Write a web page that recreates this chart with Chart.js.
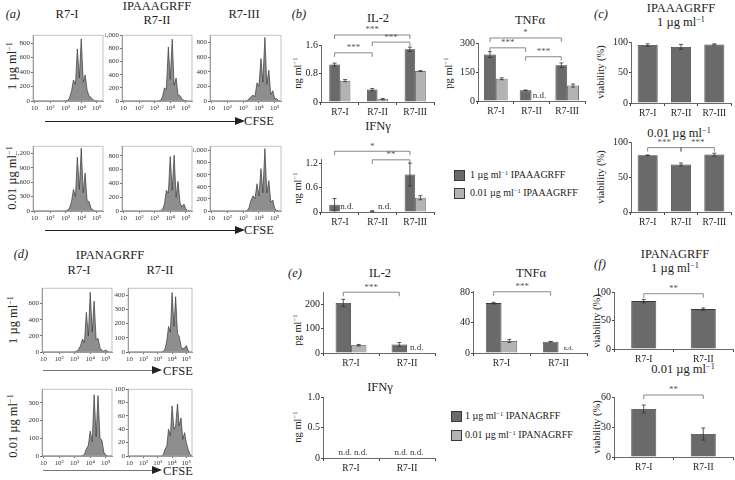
<!DOCTYPE html>
<html lang="en">
<head>
<meta charset="UTF-8">
<title>R7 clone responses to IPAAAGRFF / IPANAGRFF</title>
<script src="https://cdn.jsdelivr.net/npm/chart.js@4.4.1/dist/chart.umd.min.js"></script>
<style>
  body { margin:0; width:735px; height:480px; position:relative; overflow:hidden; background:#fff;
         font-family:'Liberation Serif','Times New Roman',serif; color:#222; }
  canvas { position:absolute; }
  .t { position:absolute; white-space:nowrap; transform:translate(-50%,-50%); font-size:12.5px; line-height:1; }
  .v { transform:translate(-50%,-50%) rotate(-90deg); }
  .s { font-size:10.5px; }
  .l { transform:translate(0,-50%); font-size:10px; }
  sup { font-size:0.65em; vertical-align:0.5em; line-height:0; }
  .arrow { position:absolute; height:1.3px; background:#222; }
  .arrow:after { content:''; position:absolute; right:-9px; top:-3.6px; border-left:10px solid #222;
                 border-top:4.2px solid transparent; border-bottom:4.2px solid transparent; }
  .arrow.g { background:#777; }
  .sq { position:absolute; width:9px; height:9px; border:1px solid #3a3a3a; }
</style>
</head>
<body>

<!-- panel (a) -->
<div class="t" style="left:13px;top:14px"><i>(a)</i></div>
<div class="t" style="left:67px;top:14px">R7-I</div>
<div class="t" style="left:157px;top:6px">IPAAAGRFF</div>
<div class="t" style="left:157px;top:20px">R7-II</div>
<div class="t" style="left:244px;top:14px">R7-III</div>
<div class="t v" style="left:12px;top:66px">1 µg ml<sup>−1</sup></div>
<div class="t v" style="left:12px;top:178px">0.01 µg ml<sup>−1</sup></div>
<div class="arrow" style="left:45px;top:121px;width:191px"></div>
<div class="t" style="left:259px;top:121px">CFSE</div>
<div class="arrow" style="left:45px;top:230px;width:191px"></div>
<div class="t" style="left:259px;top:230px">CFSE</div>

<!-- panel (b) -->
<div class="t" style="left:299px;top:14px"><i>(b)</i></div>
<div class="t" style="left:378px;top:18px">IL-2</div>
<div class="t" style="left:530px;top:20px">TNFα</div>
<div class="t" style="left:378px;top:126px">IFNγ</div>
<div class="t v s" style="left:298px;top:73px">ng ml<sup>−1</sup></div>
<div class="t v s" style="left:449px;top:73px">pg ml<sup>−1</sup></div>
<div class="t v s" style="left:298px;top:188px">ng ml<sup>−1</sup></div>
<div class="sq" style="left:454px;top:170px;background:#6a6a6a"></div>
<div class="t l" style="left:470px;top:175px">1 µg ml<sup>−1</sup> IPAAAGRFF</div>
<div class="sq" style="left:454px;top:188px;background:#b3b3b3"></div>
<div class="t l" style="left:470px;top:193px">0.01 µg ml<sup>−1</sup> IPAAAGRFF</div>

<!-- panel (c) -->
<div class="t" style="left:601px;top:14px"><i>(c)</i></div>
<div class="t" style="left:681px;top:8px">IPAAAGRFF</div>
<div class="t" style="left:681px;top:22px">1 µg ml<sup>−1</sup></div>
<div class="t" style="left:679px;top:133px">0.01 µg ml<sup>−1</sup></div>
<div class="t v s" style="left:601px;top:72px">viability (%)</div>
<div class="t v s" style="left:601px;top:177px">viability (%)</div>

<!-- panel (d) -->
<div class="t" style="left:21px;top:254px"><i>(d)</i></div>
<div class="t" style="left:110px;top:255px">IPANAGRFF</div>
<div class="t" style="left:79px;top:270px">R7-I</div>
<div class="t" style="left:160px;top:270px">R7-II</div>
<div class="t v" style="left:13px;top:320px">1 µg ml<sup>−1</sup></div>
<div class="t v" style="left:13px;top:426px">0.01 µg ml<sup>−1</sup></div>
<div class="arrow g" style="left:43px;top:370px;width:110px"></div>
<div class="t" style="left:178px;top:371px">CFSE</div>
<div class="arrow g" style="left:43px;top:470px;width:110px"></div>
<div class="t" style="left:178px;top:471px">CFSE</div>

<!-- panel (e) -->
<div class="t" style="left:295px;top:273px"><i>(e)</i></div>
<div class="t" style="left:380px;top:273px">IL-2</div>
<div class="t" style="left:531px;top:273px">TNFα</div>
<div class="t" style="left:380px;top:387px">IFNγ</div>
<div class="t v s" style="left:298px;top:330px">pg ml<sup>−1</sup></div>
<div class="t v s" style="left:298px;top:427px">ng ml<sup>−1</sup></div>
<div class="sq" style="left:451px;top:411px;background:#6a6a6a"></div>
<div class="t l" style="left:465px;top:416px">1 µg ml<sup>−1</sup> IPANAGRFF</div>
<div class="sq" style="left:451px;top:430px;background:#b3b3b3"></div>
<div class="t l" style="left:465px;top:435px">0.01 µg ml<sup>−1</sup> IPANAGRFF</div>

<!-- panel (f) -->
<div class="t" style="left:600px;top:264px"><i>(f)</i></div>
<div class="t" style="left:675px;top:254px">IPANAGRFF</div>
<div class="t" style="left:675px;top:268px">1 µg ml<sup>−1</sup></div>
<div class="t" style="left:683px;top:369px">0.01 µg ml<sup>−1</sup></div>
<div class="t v s" style="left:597px;top:321px">viability (%)</div>
<div class="t v s" style="left:597px;top:427px">viability (%)</div>

<script>
// ---- CFSE histograms: x in decades (log10 of fluorescence), y = cell counts
var cfseLog = [0.9, 2.75, 2.88, 3.0, 3.13, 3.25, 3.38, 3.5, 3.63, 3.75, 3.88, 4.0,
               4.13, 4.25, 4.38, 4.5, 4.63, 4.75, 4.88, 5.0, 5.13, 5.25, 5.38, 5.4];
var decadeTicks = [1, 2, 3, 4, 5];
var decadeLabels = ['10', '10²', '10³', '10⁴', '10⁵'];

var aR7I_1  = [0,0,0,3,10,40,140,290,230,720,320,860,260,360,150,70,50,15,5,2,0,0,0,0];
var aR7II_1 = [0,0,0,0,0,2,10,60,200,170,820,330,940,240,350,90,80,30,10,5,0,0,0,0];
var aR7III_1 = [0,0,0,0,0,5,30,60,80,60,250,200,580,260,870,230,420,90,140,30,30,5,0,0];
var aR7I_001 = [0,0,2,5,20,60,200,450,300,1120,450,1310,380,790,200,200,60,20,5,0,0,0,0,0];
var aR7II_001 = [0,0,0,0,0,0,5,20,100,300,260,790,300,810,200,430,120,60,100,30,5,0,0,0];
var aR7III_001 = [0,0,0,0,0,5,60,180,250,200,450,250,700,300,1030,300,500,150,180,40,10,0,0,0];
var dR7I_1  = [0,0,0,2,10,30,80,160,120,490,200,740,250,630,150,170,50,20,10,25,5,0,0,0];
var dR7II_1 = [0,0,0,0,0,0,5,20,80,180,140,420,180,390,130,110,40,20,30,45,10,0,0,0];
var dR7I_001 = [0,0,0,0,0,0,0,2,10,40,60,140,80,345,110,340,100,90,20,5,0,0,0,0];
var dR7II_001 = [0,0,0,0,0,0,2,10,15,40,30,75,40,45,78,45,57,25,35,20,10,3,0,0];

// ---- cytokines and viability
var clonesB = ['R7-I', 'R7-II', 'R7-III'];
var clonesE = ['R7-I', 'R7-II'];

var bIl2Hi = [1.05, 0.35, 1.48], bIl2HiErr = [0.04, 0.03, 0.06];
var bIl2Lo = [0.60, 0.08, 0.87], bIl2LoErr = [0.03, 0.02, 0.01];
var bIl2Sig = [[0, 2, 1.88, '***'], [1, 2, 1.68, '***'], [0, 1, 1.38, '***']];

var bTnfHi = [240, 55, 185], bTnfHiErr = [15, 2, 12];
var bTnfLo = [115, null, 80], bTnfLoErr = [5, 0, 8];
var bTnfSig = [[0, 2, 326, '*'], [0, 1, 275, '***'], [1, 2, 229, '***']];

var bIfnHi = [0.18, 0.02, 0.92], bIfnHiErr = [0.15, 0.01, 0.28];
var bIfnLo = [null, null, 0.35], bIfnLoErr = [0, 0, 0.05];
var bIfnSig = [[0, 2, 1.49, '*'], [1, 2, 1.28, '**']];

var cVia1 = [95, 92, 96], cVia1Err = [2, 4, 1];
var cVia001 = [81, 68, 82], cVia001Err = [0.5, 2, 2];
var cVia001Sig = [[0, 1, 92, '***'], [1, 2, 92, '***']];

var eIl2Hi = [205, 35], eIl2HiErr = [15, 8];
var eIl2Lo = [32, null], eIl2LoErr = [3, 0];
var eIl2Sig = [[0, 1, 249, '***']];

var eTnfHi = [66, 15], eTnfHiErr = [1, 0.3];
var eTnfLo = [16, null], eTnfLoErr = [2, 0];
var eTnfSig = [[0, 1, 81, '***']];

var eIfnHi = [null, null], eIfnLo = [null, null];

var fVia1 = [84, 70], fVia1Err = [3, 2];
var fVia1Sig = [[0, 1, 97, '**']];
var fVia001 = [48, 23], fVia001Err = [4, 6];
var fVia001Sig = [[0, 1, 62, '**']];

var darkFill = '#6a6a6a', lightFill = '#b3b3b3', ink = '#333';

Chart.defaults.font.family = "'Liberation Serif','Times New Roman',serif";
Chart.defaults.color = '#222';

// canvas placed so that the plot area lands on [x0,y0]-[x1,y1] of the page
function canvasFor(x0, y0, x1, y1, yW, xH, top, right) {
  var c = document.createElement('canvas');
  var left = x0 - yW, tp = y0 - top;
  var w = Math.round(x1 + right - left), h = Math.round(y1 + xH - tp);
  c.width = w; c.height = h;
  c.style.left = left + 'px'; c.style.top = tp + 'px';
  c.style.width = w + 'px'; c.style.height = h + 'px';
  document.body.appendChild(c);
  return c;
}

// x centre of bar k in category j (works for missing values too)
function barX(chart, k, j, cp) {
  var xs = chart.scales.x, n = chart.data.datasets.length;
  var catW = xs.width / chart.data.labels.length;
  var bw = catW * cp / n;
  return xs.getPixelForValue(j) + (k - (n - 1) / 2) * bw;
}

var marks = {
  id: 'marks',
  afterDatasetsDraw: function(chart, args, o) {
    var ctx = chart.ctx, ys = chart.scales.y;
    ctx.save();
    ctx.strokeStyle = ink; ctx.lineWidth = 0.8;
    chart.data.datasets.forEach(function(ds, k) {
      var errs = o.errs[k] || [];
      ds.data.forEach(function(v, j) {
        var px = barX(chart, k, j, o.cp);
        if (v == null) {
          ctx.fillStyle = '#333';
          ctx.font = o.ndSize + "px 'Liberation Serif'";
          ctx.textAlign = 'center'; ctx.textBaseline = 'bottom';
          ctx.fillText('n.d.', px + 2, ys.bottom - 1);
          return;
        }
        if (!errs[j]) return;
        var t = ys.getPixelForValue(v + errs[j]), b = ys.getPixelForValue(Math.max(v - errs[j], 0));
        ctx.beginPath();
        ctx.moveTo(px, t); ctx.lineTo(px, b);
        ctx.moveTo(px - 2, t); ctx.lineTo(px + 2, t);
        ctx.moveTo(px - 2, b); ctx.lineTo(px + 2, b);
        ctx.stroke();
      });
    });
    (o.sig || []).forEach(function(s) {
      var xa = barX(chart, 0, s[0], o.cp), xb = barX(chart, 0, s[1], o.cp);
      var y = ys.getPixelForValue(s[2]);
      ctx.strokeStyle = '#555'; ctx.lineWidth = 0.7;
      ctx.beginPath();
      ctx.moveTo(xa, y + 4); ctx.lineTo(xa, y); ctx.lineTo(xb, y); ctx.lineTo(xb, y + 4);
      ctx.stroke();
      ctx.fillStyle = '#555'; ctx.font = "9px 'Liberation Serif'";
      ctx.textAlign = 'center'; ctx.textBaseline = 'bottom';
      ctx.fillText(s[3], (xa + xb) / 2, y - 0.5);
    });
    ctx.restore();
  }
};

var frame = {
  id: 'frame',
  afterDraw: function(chart) {
    var a = chart.chartArea, ctx = chart.ctx;
    ctx.save();
    ctx.strokeStyle = '#a8a8a8'; ctx.lineWidth = 0.7;
    ctx.strokeRect(a.left, a.top, a.right - a.left, a.bottom - a.top);
    ctx.restore();
  }
};

function yAxis(max, ticks, yW, size, dec) {
  return {
    min: 0, max: max,
    afterBuildTicks: function(s) { s.ticks = ticks.map(function(v) { return { value: v }; }); },
    afterFit: function(s) { s.width = yW; },
    grid: { drawOnChartArea: false, tickLength: 2, color: '#444' },
    border: { color: '#444', width: 0.8 },
    ticks: { font: { size: size }, padding: 1, color: '#222',
             callback: function(v) { return v === 0 ? '0' : (dec ? v.toFixed(dec) : String(v)); } }
  };
}

function bars(r, labels, sets, o) {
  var yW = 22, xH = 16, top = 34;
  var c = canvasFor(r[0], r[1], r[2], r[3], yW, xH, top, 4);
  new Chart(c, {
    type: 'bar',
    data: {
      labels: labels,
      datasets: sets.map(function(s) {
        return { data: s.data, backgroundColor: s.fill, borderColor: '#3a3a3a', borderWidth: 0.8,
                 categoryPercentage: o.cp, barPercentage: 1 };
      })
    },
    options: {
      responsive: false, animation: false,
      layout: { padding: { top: top, right: 4, left: 0, bottom: 0 } },
      plugins: { legend: { display: false }, tooltip: { enabled: false },
                 marks: { errs: sets.map(function(s) { return s.err; }), sig: o.sig, cp: o.cp, ndSize: o.ndSize || 9 } },
      scales: {
        x: { grid: { drawOnChartArea: false, offset: true, tickLength: 3, color: '#444' },
             border: { color: '#444', width: 0.8 },
             ticks: { font: { size: 9.5 }, padding: 2, color: '#222', maxRotation: 0 },
             afterFit: function(s) { s.height = xH; } },
        y: yAxis(o.max, o.ticks, yW, 10, o.dec)
      }
    },
    plugins: [marks]
  });
}

function hist(r, counts, max, ticks) {
  var yW = 17, xH = 10;
  var c = canvasFor(r[0], r[1], r[2], r[3], yW, xH, 2, 2);
  new Chart(c, {
    type: 'line',
    data: { datasets: [{
      data: cfseLog.map(function(x, i) { return { x: x, y: counts[i] }; }),
      fill: 'origin', backgroundColor: '#8e8e8e', borderColor: '#3a3a3a', borderWidth: 0.7,
      pointRadius: 0, tension: 0
    }] },
    options: {
      responsive: false, animation: false,
      layout: { padding: { top: 2, right: 2, left: 0, bottom: 0 } },
      plugins: { legend: { display: false }, tooltip: { enabled: false } },
      scales: {
        x: { type: 'linear', min: 0.9, max: 5.4,
             afterBuildTicks: function(s) { s.ticks = decadeTicks.map(function(v) { return { value: v }; }); },
             afterFit: function(s) { s.height = xH; },
             grid: { drawOnChartArea: false, tickLength: 2, color: '#666' },
             border: { color: '#666', width: 0.7 },
             ticks: { font: { size: 7 }, padding: 1, maxRotation: 0, color: '#333',
                      callback: function(v) { return decadeLabels[decadeTicks.indexOf(v)]; } } },
        y: { min: 0, max: max,
             afterBuildTicks: function(s) { s.ticks = ticks.map(function(v) { return { value: v }; }); },
             afterFit: function(s) { s.width = yW; },
             grid: { drawOnChartArea: false, tickLength: 2, color: '#666' },
             border: { color: '#666', width: 0.7 },
             ticks: { font: { size: 7 }, padding: 1, color: '#333' } }
      }
    },
    plugins: [frame]
  });
}

// (a) IPAAAGRFF proliferation
hist([33, 32, 103, 101], aR7I_1, 910, [0, 200, 400, 600, 800]);
hist([121.5, 32, 191.5, 101], aR7II_1, 1000, [0, 200, 400, 600, 800, 1000]);
hist([210, 32, 281, 101], aR7III_1, 900, [0, 200, 400, 600, 800]);
hist([33, 143, 103, 211], aR7I_001, 1350, [0, 300, 600, 900, 1200]);
hist([121.5, 143, 191.5, 211], aR7II_001, 940, [0, 200, 400, 600, 800]);
hist([210, 143, 281, 211], aR7III_001, 1070, [0, 200, 400, 600, 800, 1000]);

// (d) IPANAGRFF proliferation
hist([41.7, 285, 111.7, 352], dR7I_1, 790, [0, 200, 400, 600]);
hist([128.3, 285, 192.7, 352], dR7II_1, 450, [0, 100, 200, 300, 400]);
hist([41.7, 386, 111.7, 455.5], dR7I_001, 376, [0, 100, 200, 300]);
hist([128.3, 386, 192.7, 455.5], dR7II_001, 100, [0, 20, 40, 60, 80, 100]);

// (b) IPAAAGRFF cytokines
bars([321, 45, 434, 101.7], clonesB,
     [{ data: bIl2Hi, err: bIl2HiErr, fill: darkFill }, { data: bIl2Lo, err: bIl2LoErr, fill: lightFill }],
     { max: 1.6, ticks: [0, 0.8, 1.6], dec: 1, cp: 0.56, sig: bIl2Sig });
bars([478, 43.3, 585, 101.7], clonesB,
     [{ data: bTnfHi, err: bTnfHiErr, fill: darkFill }, { data: bTnfLo, err: bTnfLoErr, fill: lightFill }],
     { max: 300, ticks: [0, 150, 300], cp: 0.66, sig: bTnfSig });
bars([321, 159, 434, 212], clonesB,
     [{ data: bIfnHi, err: bIfnHiErr, fill: darkFill }, { data: bIfnLo, err: bIfnLoErr, fill: lightFill }],
     { max: 1.3, ticks: [0, 0.6, 1.2], dec: 1, cp: 0.56, sig: bIfnSig });

// (c) IPAAAGRFF viability
bars([631, 41.7, 731, 102.3], clonesB, [{ data: cVia1, err: cVia1Err, fill: darkFill }],
     { max: 100, ticks: [0, 50, 100], cp: 0.6 });
bars([631, 142, 731, 212], clonesB, [{ data: cVia001, err: cVia001Err, fill: darkFill }],
     { max: 100, ticks: [0, 50, 100], cp: 0.6, sig: cVia001Sig });

// (e) IPANAGRFF cytokines
bars([322.7, 292, 435, 353.3], clonesE,
     [{ data: eIl2Hi, err: eIl2HiErr, fill: darkFill }, { data: eIl2Lo, err: eIl2LoErr, fill: lightFill }],
     { max: 250, ticks: [0, 100, 200], cp: 0.55, sig: eIl2Sig });
bars([472.7, 290.8, 586.7, 352.3], clonesE,
     [{ data: eTnfHi, err: eTnfHiErr, fill: darkFill }, { data: eTnfLo, err: eTnfLoErr, fill: lightFill }],
     { max: 82, ticks: [0, 40, 80], cp: 0.55, sig: eTnfSig, ndSize: 6.5 });
bars([322.7, 396.7, 435, 457.3], clonesE,
     [{ data: eIfnHi, err: [], fill: darkFill }, { data: eIfnLo, err: [], fill: lightFill }],
     { max: 1, ticks: [0, 0.5, 1.0], dec: 1, cp: 0.55 });

// (f) IPANAGRFF viability
bars([614, 292.3, 733, 349], clonesE, [{ data: fVia1, err: fVia1Err, fill: darkFill }],
     { max: 100, ticks: [0, 50, 100], cp: 0.42, sig: fVia1Sig });
bars([614, 396.7, 733, 456.7], clonesE, [{ data: fVia001, err: fVia001Err, fill: darkFill }],
     { max: 60, ticks: [0, 30, 60], cp: 0.42, sig: fVia001Sig });
</script>
</body>
</html>
